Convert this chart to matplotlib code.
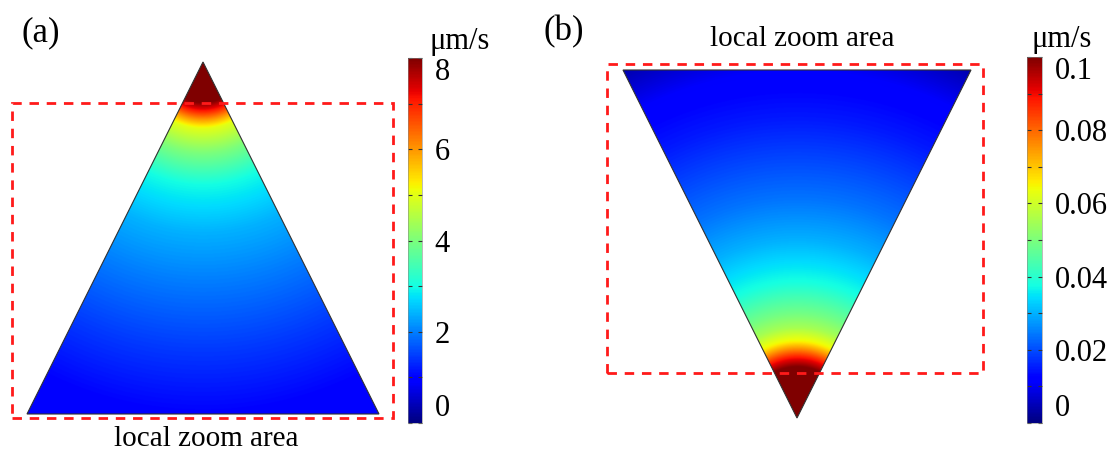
import numpy as np
import matplotlib
matplotlib.use("Agg")
import matplotlib.pyplot as plt
from matplotlib.patches import Polygon, Rectangle

plt.rcParams['font.family'] = ['Liberation Serif', 'DejaVu Serif']

# speed vs. distance from the tip (distance given as fraction of triangle height)
a_r = [0.0, 0.10, 0.117, 0.142, 0.165, 0.19, 0.26, 0.35, 0.485, 0.62, 0.82, 1.0, 1.12]
a_v = [9.0, 8.4, 8.0, 7.0, 6.0, 5.0, 4.0, 3.0, 2.4, 2.0, 1.45, 1.0, 0.9]

b_r = [0.0, 0.13, 0.147, 0.175, 0.20, 0.22, 0.26, 0.30, 0.39, 0.51, 0.63, 0.86, 1.0, 1.12]
b_v = [0.12, 0.105, 0.10, 0.088, 0.075, 0.065, 0.055, 0.049, 0.038, 0.030, 0.024, 0.015, 0.011, 0.004]

a_ticks = [0, 1, 2, 3, 4, 5, 6, 7, 8]
a_labels = ['0', '', '2', '', '4', '', '6', '', '8']
b_ticks = [0, 0.01, 0.02, 0.03, 0.04, 0.05, 0.06, 0.07, 0.08, 0.09, 0.1]
b_labels = ['0', '', '0.02', '', '0.04', '', '0.06', '', '0.08', '', '0.1']

# geometry (unit height, base width 1)
tri_a = [(-0.5, 0.0), (0.5, 0.0), (0.0, 1.0)]
tip_a = (0.0, 1.0)
tri_b = [(-0.5, 1.0), (0.5, 1.0), (0.0, 0.0)]
tip_b = (0.0, 0.0)
box_a = (-0.543, -0.011, 1.083, 0.895)
box_b = (-0.546, 0.129, 1.080, 0.888)

W, H = 1115, 457
fig = plt.figure(figsize=(W / 100, H / 100), dpi=100)


def px_axes(x0, y0, x1, y1):
    # axes placed by pixel box (top-left origin)
    return fig.add_axes([x0 / W, (H - y1) / H, (x1 - x0) / W, (y1 - y0) / H])


def field(ax, tri, tip, r, v, vmin, vmax):
    xs = np.linspace(-0.55, 0.55, 700)
    ys = np.linspace(-0.02, 1.02, 700)
    X, Y = np.meshgrid(xs, ys)
    R = np.hypot(X - tip[0], Y - tip[1])
    Z = np.interp(R, r, v)
    im = ax.imshow(Z, extent=(xs[0], xs[-1], ys[0], ys[-1]), origin='lower',
                   cmap='jet', vmin=vmin, vmax=vmax, interpolation='bilinear')
    patch = Polygon(tri, closed=True, facecolor='none', edgecolor='#303030', lw=0.8)
    ax.add_patch(patch)
    im.set_clip_path(patch)
    return im


def zoom_box(ax, box):
    x, y, w, h = box
    ax.add_patch(Rectangle((x, y), w, h, fill=False, edgecolor='#ff1a1a',
                           lw=2.0, linestyle=(0, (3.4, 2.8)), clip_on=False))


def colorbar(im, cax, ticks, labels):
    cb = fig.colorbar(im, cax=cax, ticks=ticks)
    cb.ax.set_yticklabels(labels)
    cb.outline.set_linewidth(0.4)
    cb.outline.set_edgecolor('#888888')
    cb.ax.tick_params(direction='in', length=3, width=0.8, color='#333333',
                      left=True, right=True, labelsize=22, pad=9)
    tl = cb.ax.get_yticklabels()
    tl[0].set_va('bottom')
    tl[-1].set_va('top')
    return cb


# (a)
ax_a = px_axes(27 - 0.06 * 352, 62 - 0.02 * 352, 379 + 0.06 * 352, 414 + 0.03 * 352)
ax_a.set_xlim(-0.56, 0.56)
ax_a.set_ylim(-0.03, 1.02)
ax_a.axis('off')
im_a = field(ax_a, tri_a, tip_a, a_r, a_v, 0, 8)
zoom_box(ax_a, box_a)
ax_a.text(0.01, -0.072, 'local zoom area', ha='center', va='center', fontsize=21, clip_on=False)
fig.text(41 / W, 1 - 33 / H, '(a)', ha='center', va='center', fontsize=25)

cax_a = px_axes(408, 58, 422, 423)
colorbar(im_a, cax_a, a_ticks, a_labels)
fig.text(460 / W, 1 - 41 / H, 'μm/s', ha='center', va='center', fontsize=22)

# (b)
ax_b = px_axes(797 - 0.56 * 348, 70 - 0.02 * 348, 797 + 0.56 * 348, 418 + 0.03 * 348)
ax_b.set_xlim(-0.56, 0.56)
ax_b.set_ylim(-0.03, 1.02)
ax_b.axis('off')
im_b = field(ax_b, tri_b, tip_b, b_r, b_v, 0, 0.1)
zoom_box(ax_b, box_b)
ax_b.text(0.015, 1.09, 'local zoom area', ha='center', va='center', fontsize=21, clip_on=False)
fig.text(564 / W, 1 - 32 / H, '(b)', ha='center', va='center', fontsize=25)

cax_b = px_axes(1027, 57, 1042, 423)
colorbar(im_b, cax_b, b_ticks, b_labels)
fig.text(1062 / W, 1 - 40 / H, 'μm/s', ha='center', va='center', fontsize=22)

fig.savefig('out.png', dpi=100)
